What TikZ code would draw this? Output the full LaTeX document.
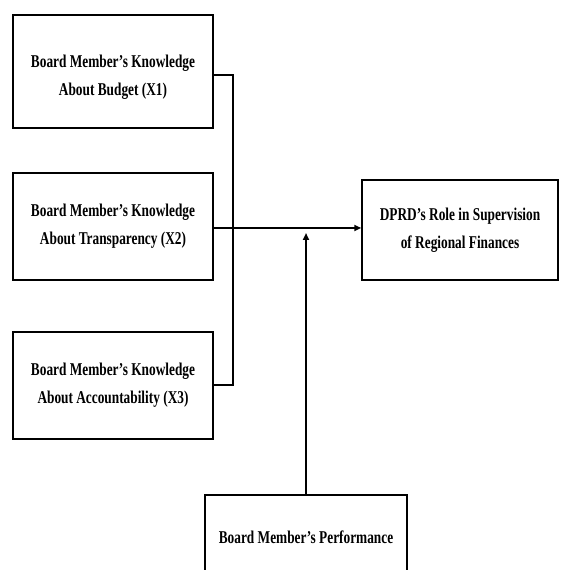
\documentclass[tikz,border=0pt]{standalone}
\usepackage{fontspec}
\setmainfont{Liberation Serif}[FakeStretch=0.74]
\usetikzlibrary{
    arrows.meta,
    positioning
}

\begin{document}
\begin{tikzpicture}[
    x=1pt, y=1pt,
    varbox/.style={draw, line width=1.5pt, align=center, inner sep=0pt,
        font=\fontsize{18}{28}\selectfont\bfseries},
    connection/.style={line width=2pt},
    influence/.style={line width=2pt, -{Triangle[length=7pt,width=6pt]}}
    ]

    \useasboundingbox (0, 0) rectangle (560, 570);
    \clip (0, 0) rectangle (560, 570);

    \node[varbox, minimum width=200, minimum height=113, text height=52pt] at (113, 498.5) (budget) {Board Member’s Knowledge\\About Budget (X1)};
    \node[varbox, minimum width=200, minimum height=107] at (113, 343.5) (transparency) {Board Member’s Knowledge\\About Transparency (X2)};
    \node[varbox, minimum width=200, minimum height=107] at (113, 184.5) (accountability) {Board Member’s Knowledge\\About Accountability (X3)};
    \node[varbox, minimum width=196, minimum height=100] at (460, 340) (supervision) {DPRD’s Role in Supervision\\of Regional Finances};
    \node[varbox, minimum width=202, minimum height=84] at (306, 33) (performance) {Board Member’s Performance};

    \coordinate (budget-out) at ([yshift=-3.5]budget.east);
    \coordinate (accountability-out) at ([yshift=0.5]accountability.east);
    \coordinate (transparency-out) at ([yshift=-1.5]transparency.east);
    \coordinate (join) at ([xshift=19]budget-out);

    \draw[connection] (budget-out) -- (join) |- (accountability-out);
    \draw[influence] (transparency-out) -- (transparency-out -| supervision.west);
    \draw[influence] (performance.north) -- ([yshift=-5]transparency-out -| performance.north);

\end{tikzpicture}
\end{document}
